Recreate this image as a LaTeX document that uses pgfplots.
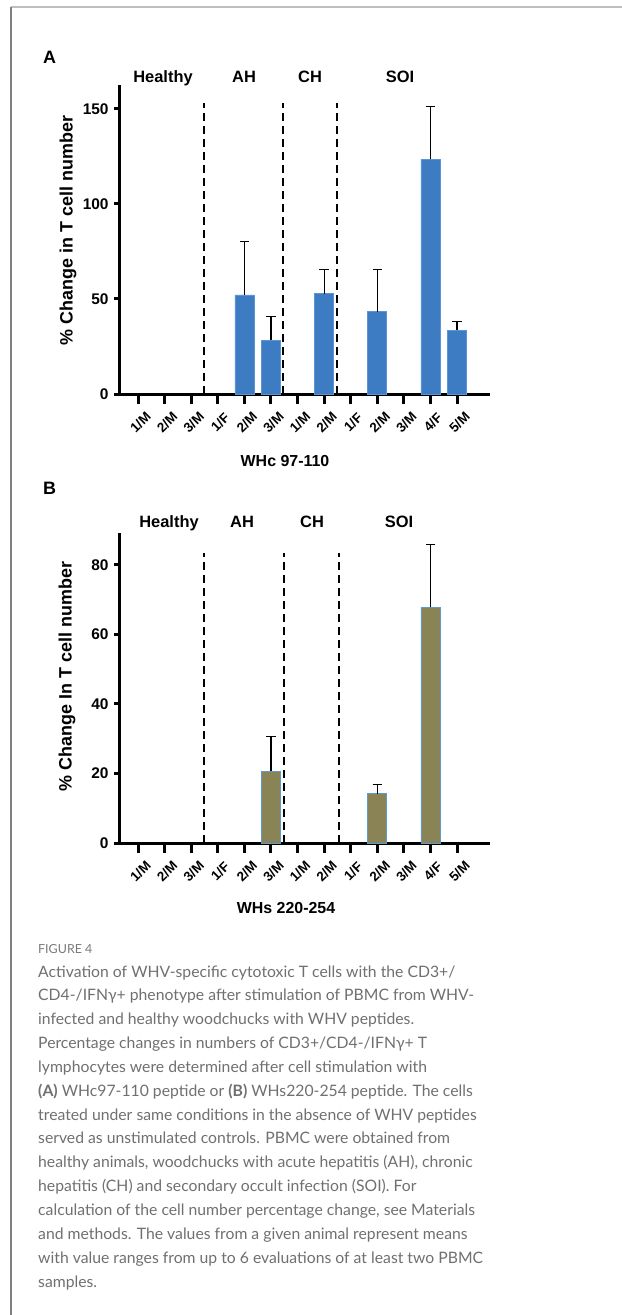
\documentclass[border=0pt]{standalone}
\usepackage{fontspec}
\setmainfont{Liberation Sans}
\newfontfamily\capfont{Lato}
\usepackage{pgfplots}
\pgfplotsset{compat=1.18}
\definecolor{barA}{HTML}{3D7BC2}
\definecolor{barAedge}{HTML}{5B95D3}
\definecolor{barB}{HTML}{8A8355}
\definecolor{barBedge}{HTML}{5B9BD5}
\definecolor{captxt}{HTML}{707070}
\definecolor{capfig}{HTML}{7A7A7A}

\pgfplotstableread{
x y e
4 52.1 28.0
5 28.2 12.5
7 52.8 12.6
9 43.3 22.1
11 123.5 27.7
12 33.5 4.6
}\dataA
\pgfplotstableread{
x y e
5 20.7 9.9
9 14.2 2.6
11 67.8 18.0
}\dataB

\pgfplotsset{
  panel/.style={
    scale only axis, width=371bp, anchor=south west,
    xmin=-0.715, xmax=13.24, ymin=0,
    axis lines=left, axis line style={line width=3bp, -},
    tick align=outside,
    xtick={0,...,12},
    xticklabels={1/M,2/M,3/M,1/F,2/M,3/M,1/M,2/M,1/F,2/M,3/M,4/F,5/M},
    xtick style={line width=3bp, black, /pgfplots/major tick length=10bp},
    ytick style={line width=3bp, black, /pgfplots/major tick length=5bp},
    /pgf/number format/assume math mode=true,
    xticklabel style={font=\bfseries\fontsize{13.5}{13.5}\selectfont, anchor=center, inner sep=0pt, xshift=2.5bp, yshift=-24bp, rotate=45},
    yticklabel style={font=\bfseries\fontsize{15.5}{15.5}\selectfont, anchor=east, inner sep=0pt, xshift=-6bp},
    clip=false,
  },
  errs/.style={
    error bars/.cd, y dir=plus, y explicit,
    error bar style={black, line width=1.2bp},
    error mark options={rotate=90, black, line width=1.2bp, mark size=4.7bp},
  },
  sep/.style={black, line width=2bp, dash pattern=on 8bp off 5bp, forget plot},
}

\begin{document}
\begin{tikzpicture}
\useasboundingbox (0,0) rectangle (622bp,-1315bp);
\fill[white] (0,0) rectangle (622bp,-1315bp);
% frame
\draw[color=black!25, line width=1.4bp] (10.5bp,-7bp) -- (622bp,-7bp);
\draw[color=black!50, line width=1.1bp] (11bp,-6.5bp) -- (11bp,-1315bp);

% ---------- Panel A ----------
\begin{axis}[panel, at={(119bp,-394bp)}, height=309bp, ymax=162.6, ytick={0,50,100,150}]
\addplot[ybar, bar width=19bp, bar shift=0pt, fill=barA, draw=barAedge, line width=0.6bp, errs]
  table[x=x, y=y, y error=e] {\dataA};
\addplot[sep] coordinates {(2.5,0) (2.5,153)};
\addplot[sep] coordinates {(5.45,0) (5.45,153)};
\addplot[sep] coordinates {(7.5,0) (7.5,153)};
\end{axis}

% ---------- Panel B ----------
\begin{axis}[panel, at={(119bp,-843bp)}, height=310bp, ymax=89.2, ytick={0,20,40,60,80}]
\addplot[ybar, bar width=19bp, bar shift=0pt, fill=barB, draw=barBedge, line width=0.8bp, errs]
  table[x=x, y=y, y error=e] {\dataB};
\addplot[sep] coordinates {(2.5,0) (2.5,83.5)};
\addplot[sep] coordinates {(5.5,0) (5.5,83.5)};
\addplot[sep] coordinates {(7.55,0) (7.55,83.5)};
\end{axis}

% ---------- texts ----------
\begin{scope}[every node/.style={font=\bfseries\fontsize{16.5}{16.5}\selectfont, inner sep=0pt}]
\node[anchor=base] at (163bp,-82bp) {Healthy};
\node[anchor=base] at (244bp,-82bp) {AH};
\node[anchor=base] at (310bp,-82bp) {CH};
\node[anchor=base] at (400bp,-82bp) {SOI};
\node[anchor=base] at (169bp,-527bp) {Healthy};
\node[anchor=base] at (242bp,-527bp) {AH};
\node[anchor=base] at (312bp,-527bp) {CH};
\node[anchor=base] at (399bp,-527bp) {SOI};
\end{scope}
\node[anchor=base west, inner sep=0pt, font=\bfseries\fontsize{18}{18}\selectfont] at (43bp,-63bp) {A};
\node[anchor=base west, inner sep=0pt, font=\bfseries\fontsize{18}{18}\selectfont] at (43bp,-494bp) {B};
\node[anchor=base, inner sep=0pt, font=\bfseries\fontsize{16}{16}\selectfont] at (285bp,-466bp) {WHc 97-110};
\node[anchor=base, inner sep=0pt, font=\bfseries\fontsize{16}{16}\selectfont] at (286bp,-913bp) {WHs 220-254};
\node[rotate=90, inner sep=0pt, font=\bfseries\fontsize{18}{18}\selectfont] at (68bp,-230.5bp) {\% Change in T cell number};
\node[rotate=90, inner sep=0pt, font=\bfseries\fontsize{18}{18}\selectfont] at (67bp,-676.5bp) {\% Change In T cell number};

% ---------- caption ----------
\node[anchor=base west, inner sep=0pt, text=capfig, font=\capfont\fontsize{12.5}{12.5}\selectfont] at (38bp,-953bp) {FIGURE 4};
\begin{scope}[every node/.style={anchor=base west, inner sep=0pt, text=captxt, font=\capfont\fontsize{15.8}{15.8}\selectfont}]
\node at (38bp,-977bp) {Activation of WHV-specific cytotoxic T cells with the CD3+/};
\node at (38bp,-1000.85bp) {CD4-/IFNγ+ phenotype after stimulation of PBMC from WHV-};
\node at (38bp,-1024.7bp) {infected and healthy woodchucks with WHV peptides.};
\node at (38bp,-1048.55bp) {Percentage changes in numbers of CD3+/CD4-/IFNγ+ T};
\node at (38bp,-1072.4bp) {lymphocytes were determined after cell stimulation with};
\node at (38bp,-1096.25bp) {\textbf{(A)} WHc97-110 peptide or \textbf{(B)} WHs220-254 peptide. The cells};
\node at (38bp,-1120.1bp) {treated under same conditions in the absence of WHV peptides};
\node at (38bp,-1143.95bp) {served as unstimulated controls. PBMC were obtained from};
\node at (38bp,-1167.8bp) {healthy animals, woodchucks with acute hepatitis (AH), chronic};
\node at (38bp,-1191.65bp) {hepatitis (CH) and secondary occult infection (SOI). For};
\node at (38bp,-1215.5bp) {calculation of the cell number percentage change, see Materials};
\node at (38bp,-1239.35bp) {and methods. The values from a given animal represent means};
\node at (38bp,-1263.2bp) {with value ranges from up to 6 evaluations of at least two PBMC};
\node at (38bp,-1287.05bp) {samples.};
\end{scope}
\end{tikzpicture}
\end{document}
